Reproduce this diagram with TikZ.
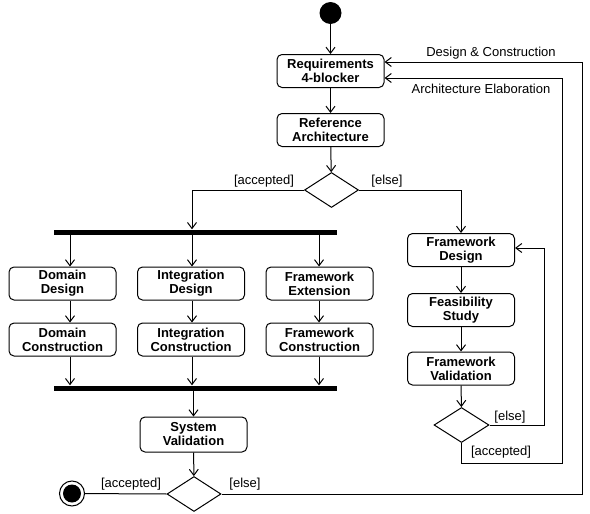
\documentclass[tikz,border=0pt]{standalone}
\usepackage{fontspec}
\setmainfont{Liberation Sans}
\usetikzlibrary{shapes.geometric,arrows.meta}
\begin{document}
\begin{tikzpicture}[x=1pt,y=-1pt,
  act/.style={draw,rounded corners=5pt,line width=1pt,minimum width=107pt,minimum height=33pt,inner sep=0pt,align=center,font=\bfseries\fontsize{13}{14}\selectfont},
  dec/.style={draw,diamond,line width=1pt,inner sep=0pt,minimum width=54pt,minimum height=35pt},
  syncbar/.style={fill=black,inner sep=0pt,minimum width=283pt,minimum height=5pt},
  arr/.style={line width=1pt,-{Straight Barb[length=6pt,width=9pt]}},
  ln/.style={line width=1pt},
  lab/.style={anchor=base,inner sep=0pt,font=\fontsize{13}{15}\selectfont}]
\useasboundingbox (0,0) rectangle (590,514);
% nodes
\node[circle,fill,minimum size=22pt,inner sep=0pt] (start) at (330.5,13) {};
\node[act] (req) at (330.5,71) {Requirements\\4-blocker};
\node[act] (ref) at (330.5,130) {Reference\\Architecture};
\node[dec] (d1) at (331.5,190) {};
\node[syncbar] (fork) at (195.5,232) {};
\node[act] (dd) at (62.5,283.5) {Domain\\Design};
\node[act] (id) at (191,283.5) {Integration\\Design};
\node[act] (fe) at (319.5,283.5) {Framework\\Extension};
\node[act] (dc) at (62.5,339.5) {Domain\\Construction};
\node[act] (ic) at (191,339.5) {Integration\\Construction};
\node[act] (fc) at (319.5,339.5) {Framework\\Construction};
\node[syncbar] (join) at (195.5,388) {};
\node[act,minimum height=35pt] (sv) at (193.5,434.5) {System\\Validation};
\node[dec] (d3) at (194,494) {};
\node[circle,draw,line width=1pt,minimum size=25pt,inner sep=0pt] (fin) at (72,493.5) {};
\node[circle,fill,minimum size=18pt,inner sep=0pt] (finin) at (fin.center) {};
\node[act] (fd) at (461,250) {Framework\\Design};
\node[act] (fs) at (461,310) {Feasibility\\Study};
\node[act] (fv) at (461,368.5) {Framework\\Validation};
\node[dec,minimum width=55pt] (d2) at (461.5,425) {};
% connectors
\draw[arr] (start) -- (req);
\draw[arr] (req) -- (ref);
\draw[arr] (ref) -- (d1);
\draw[arr] (d1.west) -| (fork.north -| 192,0);
\draw[arr] (d1.east) -| (fd.north);
\foreach \x/\a/\b in {70/dd/dc, 192/id/ic, 319/fe/fc} {
  \draw[arr] (fork.south -| \x,0) -- (\a.north -| \x,0);
  \draw[arr] (\a.south -| \x,0) -- (\b.north -| \x,0);
  \draw[arr] (\b.south -| \x,0) -- (join.north -| \x,0);
}
\draw[arr] (join.south -| sv) -- (sv);
\draw[arr] (sv) -- (d3);
\draw[ln] (d3.west) -- (fin);
\draw[arr] (d3.east) -| (582,62) -- (req.east |- 0,62);
\draw[arr] (fd) -- (fs);
\draw[arr] (fs) -- (fv);
\draw[arr] (fv) -- (d2);
\draw[arr] (d2.east) -| (544,248) -- (fd.east |- 0,248);
\draw[arr] (d2.south) |- (562,463) -- (562,78) -- (req.east |- 0,78);
% labels
\node[lab] (l1) at (491,56.5) {Design \& Construction};
\node[lab] (l2) at (481,93) {Architecture Elaboration};
\node[lab] (l3) at (264,184) {[accepted]};
\node[lab] (l4) at (387,184) {[else]};
\node[lab] (l5) at (131,487.5) {[accepted]};
\node[lab] (l6) at (245,487.5) {[else]};
\node[lab] (l7) at (510,420.5) {[else]};
\node[lab] (l8) at (501,455.5) {[accepted]};
\end{tikzpicture}
\end{document}
